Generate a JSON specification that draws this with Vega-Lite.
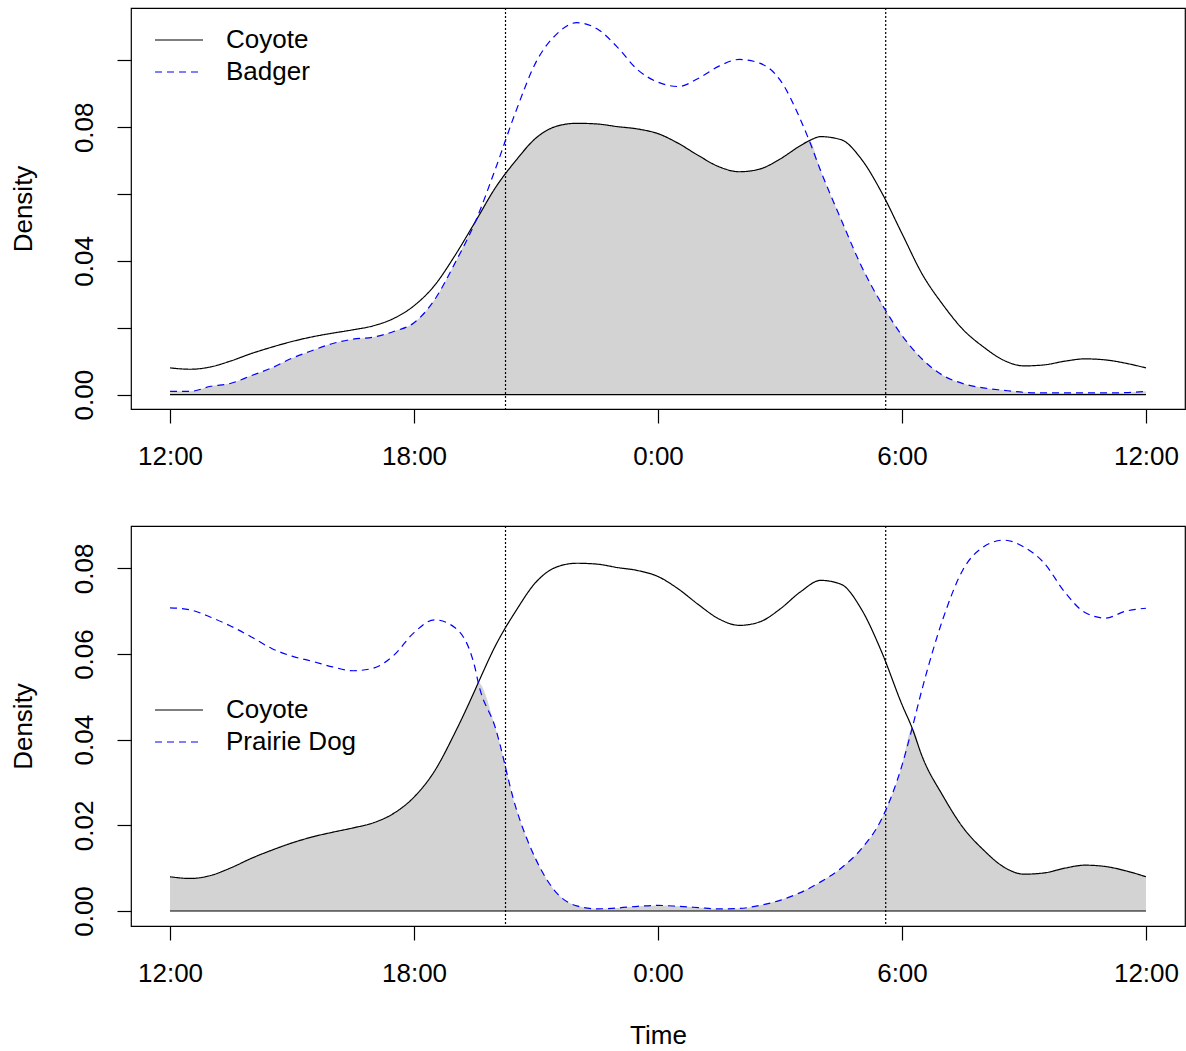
{
  "$schema": "https://vega.github.io/schema/vega-lite/v6.json",
  "padding": {"left": 9, "top": 6, "right": 0, "bottom": 0},
  "config": {
    "font": "Liberation Sans",
    "view": {"stroke": "black", "strokeWidth": 1.2},
    "axis": {"domain": false, "grid": false, "tickColor": "black", "tickSize": 14, "tickWidth": 1.2, "labelFont": "Liberation Sans", "labelFontSize": 26, "labelColor": "black", "titleFont": "Liberation Sans", "titleFontSize": 26, "titleFontWeight": "normal", "titleColor": "black"},
    "legend": {"labelFont": "Liberation Sans", "labelFontSize": 26, "labelColor": "black"}
  },
  "datasets": {
    "top": [
      {"h": 0, "Coyote": 0.0080, "Badger": 0.0010, "ov": 0.0010},
      {"h": 0.5, "Coyote": 0.0076, "Badger": 0.0010, "ov": 0.0010},
      {"h": 1, "Coyote": 0.0083, "Badger": 0.0025, "ov": 0.0025},
      {"h": 1.5, "Coyote": 0.0101, "Badger": 0.0034, "ov": 0.0034},
      {"h": 2, "Coyote": 0.0123, "Badger": 0.0057, "ov": 0.0057},
      {"h": 2.5, "Coyote": 0.0142, "Badger": 0.0080, "ov": 0.0080},
      {"h": 3, "Coyote": 0.0159, "Badger": 0.0109, "ov": 0.0109},
      {"h": 3.5, "Coyote": 0.0173, "Badger": 0.0132, "ov": 0.0132},
      {"h": 4, "Coyote": 0.0184, "Badger": 0.0153, "ov": 0.0153},
      {"h": 4.5, "Coyote": 0.0194, "Badger": 0.0166, "ov": 0.0166},
      {"h": 5, "Coyote": 0.0206, "Badger": 0.0172, "ov": 0.0172},
      {"h": 5.5, "Coyote": 0.0228, "Badger": 0.0189, "ov": 0.0189},
      {"h": 6, "Coyote": 0.0266, "Badger": 0.0215, "ov": 0.0215},
      {"h": 6.5, "Coyote": 0.0326, "Badger": 0.0283, "ov": 0.0283},
      {"h": 7, "Coyote": 0.0415, "Badger": 0.0392, "ov": 0.0392},
      {"h": 7.5, "Coyote": 0.0516, "Badger": 0.0515, "ov": 0.0515},
      {"h": 8, "Coyote": 0.0619, "Badger": 0.0675, "ov": 0.0619},
      {"h": 8.5, "Coyote": 0.0700, "Badger": 0.0846, "ov": 0.0700},
      {"h": 9, "Coyote": 0.0768, "Badger": 0.0995, "ov": 0.0768},
      {"h": 9.5, "Coyote": 0.0803, "Badger": 0.1078, "ov": 0.0803},
      {"h": 10, "Coyote": 0.0812, "Badger": 0.1113, "ov": 0.0812},
      {"h": 10.5, "Coyote": 0.0810, "Badger": 0.1095, "ov": 0.0810},
      {"h": 11, "Coyote": 0.0802, "Badger": 0.1040, "ov": 0.0802},
      {"h": 11.5, "Coyote": 0.0795, "Badger": 0.0972, "ov": 0.0795},
      {"h": 12, "Coyote": 0.0781, "Badger": 0.0935, "ov": 0.0781},
      {"h": 12.5, "Coyote": 0.0752, "Badger": 0.0922, "ov": 0.0752},
      {"h": 13, "Coyote": 0.0715, "Badger": 0.0947, "ov": 0.0715},
      {"h": 13.5, "Coyote": 0.0682, "Badger": 0.0983, "ov": 0.0682},
      {"h": 14, "Coyote": 0.0667, "Badger": 0.1003, "ov": 0.0667},
      {"h": 14.5, "Coyote": 0.0675, "Badger": 0.0992, "ov": 0.0675},
      {"h": 15, "Coyote": 0.0705, "Badger": 0.0942, "ov": 0.0705},
      {"h": 15.5, "Coyote": 0.0745, "Badger": 0.0824, "ov": 0.0745},
      {"h": 15.72, "Coyote": 0.0760, "Badger": 0.0760, "ov": 0.0760},
      {"h": 16, "Coyote": 0.0772, "Badger": 0.0670, "ov": 0.0670},
      {"h": 16.5, "Coyote": 0.0763, "Badger": 0.0525, "ov": 0.0525},
      {"h": 17, "Coyote": 0.0705, "Badger": 0.0385, "ov": 0.0385},
      {"h": 17.5, "Coyote": 0.0605, "Badger": 0.0272, "ov": 0.0272},
      {"h": 18, "Coyote": 0.0482, "Badger": 0.0177, "ov": 0.0177},
      {"h": 18.5, "Coyote": 0.0360, "Badger": 0.0106, "ov": 0.0106},
      {"h": 19, "Coyote": 0.0270, "Badger": 0.0058, "ov": 0.0058},
      {"h": 19.5, "Coyote": 0.0195, "Badger": 0.0033, "ov": 0.0033},
      {"h": 20, "Coyote": 0.0143, "Badger": 0.0020, "ov": 0.0020},
      {"h": 20.5, "Coyote": 0.0103, "Badger": 0.0013, "ov": 0.0013},
      {"h": 21, "Coyote": 0.0086, "Badger": 0.0007, "ov": 0.0007},
      {"h": 21.5, "Coyote": 0.0089, "Badger": 0.0005, "ov": 0.0005},
      {"h": 22, "Coyote": 0.0100, "Badger": 0.0005, "ov": 0.0005},
      {"h": 22.5, "Coyote": 0.0107, "Badger": 0.0005, "ov": 0.0005},
      {"h": 23, "Coyote": 0.0104, "Badger": 0.0005, "ov": 0.0005},
      {"h": 23.5, "Coyote": 0.0094, "Badger": 0.0006, "ov": 0.0006},
      {"h": 24, "Coyote": 0.0080, "Badger": 0.0010, "ov": 0.0010}
    ],
    "bottom": [
      {"h": 0, "Coyote": 0.0080, "Prairie Dog": 0.0708, "ov": 0.0080},
      {"h": 0.5, "Coyote": 0.0076, "Prairie Dog": 0.0703, "ov": 0.0076},
      {"h": 1, "Coyote": 0.0083, "Prairie Dog": 0.0686, "ov": 0.0083},
      {"h": 1.5, "Coyote": 0.0101, "Prairie Dog": 0.0665, "ov": 0.0101},
      {"h": 2, "Coyote": 0.0123, "Prairie Dog": 0.0640, "ov": 0.0123},
      {"h": 2.5, "Coyote": 0.0142, "Prairie Dog": 0.0613, "ov": 0.0142},
      {"h": 3, "Coyote": 0.0159, "Prairie Dog": 0.0595, "ov": 0.0159},
      {"h": 3.5, "Coyote": 0.0173, "Prairie Dog": 0.0583, "ov": 0.0173},
      {"h": 4, "Coyote": 0.0184, "Prairie Dog": 0.0570, "ov": 0.0184},
      {"h": 4.5, "Coyote": 0.0194, "Prairie Dog": 0.0561, "ov": 0.0194},
      {"h": 5, "Coyote": 0.0206, "Prairie Dog": 0.0567, "ov": 0.0206},
      {"h": 5.5, "Coyote": 0.0228, "Prairie Dog": 0.0597, "ov": 0.0228},
      {"h": 6, "Coyote": 0.0266, "Prairie Dog": 0.0650, "ov": 0.0266},
      {"h": 6.5, "Coyote": 0.0326, "Prairie Dog": 0.0680, "ov": 0.0326},
      {"h": 7, "Coyote": 0.0415, "Prairie Dog": 0.0662, "ov": 0.0415},
      {"h": 7.5, "Coyote": 0.0516, "Prairie Dog": 0.0568, "ov": 0.0516},
      {"h": 7.58, "Coyote": 0.0533, "Prairie Dog": 0.0533, "ov": 0.0533},
      {"h": 8, "Coyote": 0.0619, "Prairie Dog": 0.0428, "ov": 0.0428},
      {"h": 8.5, "Coyote": 0.0700, "Prairie Dog": 0.0243, "ov": 0.0243},
      {"h": 9, "Coyote": 0.0768, "Prairie Dog": 0.0120, "ov": 0.0120},
      {"h": 9.5, "Coyote": 0.0803, "Prairie Dog": 0.0043, "ov": 0.0043},
      {"h": 10, "Coyote": 0.0812, "Prairie Dog": 0.0012, "ov": 0.0012},
      {"h": 10.5, "Coyote": 0.0810, "Prairie Dog": 0.0005, "ov": 0.0005},
      {"h": 11, "Coyote": 0.0802, "Prairie Dog": 0.0007, "ov": 0.0007},
      {"h": 11.5, "Coyote": 0.0795, "Prairie Dog": 0.0011, "ov": 0.0011},
      {"h": 12, "Coyote": 0.0781, "Prairie Dog": 0.0013, "ov": 0.0013},
      {"h": 12.5, "Coyote": 0.0752, "Prairie Dog": 0.0011, "ov": 0.0011},
      {"h": 13, "Coyote": 0.0715, "Prairie Dog": 0.0008, "ov": 0.0008},
      {"h": 13.5, "Coyote": 0.0682, "Prairie Dog": 0.0005, "ov": 0.0005},
      {"h": 14, "Coyote": 0.0667, "Prairie Dog": 0.0006, "ov": 0.0006},
      {"h": 14.5, "Coyote": 0.0675, "Prairie Dog": 0.0013, "ov": 0.0013},
      {"h": 15, "Coyote": 0.0705, "Prairie Dog": 0.0025, "ov": 0.0025},
      {"h": 15.5, "Coyote": 0.0745, "Prairie Dog": 0.0043, "ov": 0.0043},
      {"h": 16, "Coyote": 0.0772, "Prairie Dog": 0.0068, "ov": 0.0068},
      {"h": 16.5, "Coyote": 0.0763, "Prairie Dog": 0.0100, "ov": 0.0100},
      {"h": 17, "Coyote": 0.0705, "Prairie Dog": 0.0145, "ov": 0.0145},
      {"h": 17.5, "Coyote": 0.0605, "Prairie Dog": 0.0215, "ov": 0.0215},
      {"h": 18, "Coyote": 0.0482, "Prairie Dog": 0.0340, "ov": 0.0340},
      {"h": 18.25, "Coyote": 0.0427, "Prairie Dog": 0.0427, "ov": 0.0427},
      {"h": 18.5, "Coyote": 0.0360, "Prairie Dog": 0.0520, "ov": 0.0360},
      {"h": 19, "Coyote": 0.0270, "Prairie Dog": 0.0680, "ov": 0.0270},
      {"h": 19.5, "Coyote": 0.0195, "Prairie Dog": 0.0797, "ov": 0.0195},
      {"h": 20, "Coyote": 0.0143, "Prairie Dog": 0.0850, "ov": 0.0143},
      {"h": 20.5, "Coyote": 0.0103, "Prairie Dog": 0.0866, "ov": 0.0103},
      {"h": 21, "Coyote": 0.0086, "Prairie Dog": 0.0850, "ov": 0.0086},
      {"h": 21.5, "Coyote": 0.0089, "Prairie Dog": 0.0812, "ov": 0.0089},
      {"h": 22, "Coyote": 0.0100, "Prairie Dog": 0.0745, "ov": 0.0100},
      {"h": 22.5, "Coyote": 0.0107, "Prairie Dog": 0.0697, "ov": 0.0107},
      {"h": 23, "Coyote": 0.0104, "Prairie Dog": 0.0684, "ov": 0.0104},
      {"h": 23.5, "Coyote": 0.0094, "Prairie Dog": 0.0700, "ov": 0.0094},
      {"h": 24, "Coyote": 0.0080, "Prairie Dog": 0.0707, "ov": 0.0080}
    ],
    "events": [
      {"event": "Sunset", "h": 8.25},
      {"event": "Sunrise", "h": 17.6}
    ]
  },
  "vconcat": [
    {
      "width": 1054,
      "height": 401,
      "layer": [
        {
          "data": {"name": "top"},
          "mark": {"type": "area", "color": "#D3D3D3", "interpolate": "monotone"},
          "encoding": {
            "x": {"field": "h", "type": "quantitative", "scale": {"domain": [-0.96, 24.96], "nice": false, "zero": false},
              "axis": {"values": [0, 6, 12, 18, 24], "title": null, "labelPadding": 20, "labelExpr": "datum.value==0||datum.value==24?'12:00':datum.value==6?'18:00':datum.value==12?'0:00':'6:00'"}},
            "y": {"field": "ov", "type": "quantitative", "scale": {"domain": [-0.0043, 0.1157], "nice": false, "zero": false},
              "axis": {"values": [0, 0.02, 0.04, 0.06, 0.08, 0.1], "title": "Density", "labelAngle": -90, "labelAlign": "center", "labelBaseline": "bottom", "labelPadding": 20, "titlePadding": 35, "labelExpr": "indexof(['0.00','0.04','0.08'], format(datum.value,'.2f'))>=0 ? format(datum.value,'.2f') : ''"}},
            "y2": {"datum": 0}
          }
        },
        {
          "data": {"values": [{}]},
          "mark": {"type": "rule", "color": "black", "strokeWidth": 1.2},
          "encoding": {"x": {"datum": 0}, "x2": {"datum": 24}, "y": {"datum": 0}}
        },
        {
          "data": {"name": "events"},
          "mark": {"type": "rule", "color": "black", "strokeWidth": 1.2, "strokeDash": [2, 2]},
          "encoding": {"x": {"field": "h", "type": "quantitative"}}
        },
        {
          "data": {"name": "top"},
          "transform": [{"fold": ["Coyote", "Badger"], "as": ["species", "density"]}],
          "mark": {"type": "line", "interpolate": "monotone", "strokeWidth": 1.2},
          "encoding": {
            "x": {"field": "h", "type": "quantitative"},
            "y": {"field": "density", "type": "quantitative"},
            "color": {"field": "species", "type": "nominal", "scale": {"domain": ["Coyote", "Badger"], "range": ["black", "blue"]},
              "legend": {"orient": "none", "legendX": 35, "legendY": 19, "title": null, "symbolType": "M-2,0H2", "symbolSize": 576, "symbolStrokeWidth": 1.2, "symbolFillColor": "transparent", "labelOffset": 34, "rowPadding": 6, "padding": 0}},
            "strokeDash": {"field": "species", "type": "nominal", "scale": {"domain": ["Coyote", "Badger"], "range": [[1, 0], [7, 5]]}}
          }
        }
      ]
    },
    {
      "width": 1054,
      "height": 400,
      "layer": [
        {
          "data": {"name": "bottom"},
          "mark": {"type": "area", "color": "#D3D3D3", "interpolate": "monotone"},
          "encoding": {
            "x": {"field": "h", "type": "quantitative", "scale": {"domain": [-0.96, 24.96], "nice": false, "zero": false},
              "axis": {"values": [0, 6, 12, 18, 24], "title": "Time", "labelPadding": 20, "titlePadding": 36, "labelExpr": "datum.value==0||datum.value==24?'12:00':datum.value==6?'18:00':datum.value==12?'0:00':'6:00'"}},
            "y": {"field": "ov", "type": "quantitative", "scale": {"domain": [-0.0035, 0.0899], "nice": false, "zero": false},
              "axis": {"values": [0, 0.02, 0.04, 0.06, 0.08], "format": ".2f", "title": "Density", "labelAngle": -90, "labelAlign": "center", "labelBaseline": "bottom", "labelPadding": 20, "titlePadding": 35}},
            "y2": {"datum": 0}
          }
        },
        {
          "data": {"values": [{}]},
          "mark": {"type": "rule", "color": "black", "strokeWidth": 1.2},
          "encoding": {"x": {"datum": 0}, "x2": {"datum": 24}, "y": {"datum": 0}}
        },
        {
          "data": {"name": "events"},
          "mark": {"type": "rule", "color": "black", "strokeWidth": 1.2, "strokeDash": [2, 2]},
          "encoding": {"x": {"field": "h", "type": "quantitative"}}
        },
        {
          "data": {"name": "bottom"},
          "transform": [{"fold": ["Coyote", "Prairie Dog"], "as": ["species", "density"]}],
          "mark": {"type": "line", "interpolate": "monotone", "strokeWidth": 1.2},
          "encoding": {
            "x": {"field": "h", "type": "quantitative"},
            "y": {"field": "density", "type": "quantitative"},
            "color": {"field": "species", "type": "nominal", "scale": {"domain": ["Coyote", "Prairie Dog"], "range": ["black", "blue"]},
              "legend": {"orient": "none", "legendX": 35, "legendY": 171, "title": null, "symbolType": "M-2,0H2", "symbolSize": 576, "symbolStrokeWidth": 1.2, "symbolFillColor": "transparent", "labelOffset": 34, "rowPadding": 6, "padding": 0}},
            "strokeDash": {"field": "species", "type": "nominal", "scale": {"domain": ["Coyote", "Prairie Dog"], "range": [[1, 0], [7, 5]]}}
          }
        }
      ]
    }
  ],
  "spacing": 117,
  "bounds": "flush",
  "resolve": {"scale": {"x": "independent", "y": "independent", "color": "independent", "strokeDash": "independent"}, "axis": {"x": "independent", "y": "independent"}, "legend": {"color": "independent", "strokeDash": "independent"}}
}
